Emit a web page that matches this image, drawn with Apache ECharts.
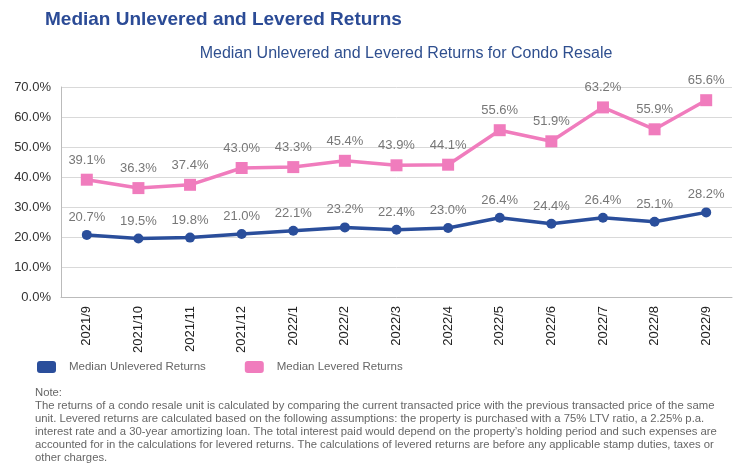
<!DOCTYPE html>
<html>
<head>
<meta charset="utf-8">
<script src="https://cdn.jsdelivr.net/npm/echarts@6/dist/echarts.min.js"></script>
<style>
html,body{margin:0;padding:0;background:#fff;}
#c{width:750px;height:473px;}
</style>
</head>
<body>
<div id="c"></div>
<script>
var categories = ['2021/9','2021/10','2021/11','2021/12','2022/1','2022/2','2022/3','2022/4','2022/5','2022/6','2022/7','2022/8','2022/9'];
var unlevered = [20.7,19.5,19.8,21.0,22.1,23.2,22.4,23.0,26.4,24.4,26.4,25.1,28.2];
var levered = [39.1,36.3,37.4,43.0,43.3,45.4,43.9,44.1,55.6,51.9,63.2,55.9,65.6];
var seriesNames = ['Median Unlevered Returns','Median Levered Returns'];
var noteLines = [
 'Note:',
 'The returns of a condo resale unit is calculated by comparing the current transacted price with the previous transacted price of the same',
 'unit. Levered returns are calculated based on the following assumptions: the property is purchased with a 75% LTV ratio, a 2.25% p.a.',
 'interest rate and a 30-year amortizing loan. The total interest paid would depend on the property\u2019s holding period and such expenses are',
 'accounted for in the calculations for levered returns. The calculations of levered returns are before any applicable stamp duties, taxes or',
 'other charges.'
];
var FONT = '"Liberation Sans", Arial, sans-serif';
var chart = echarts.init(document.getElementById('c'));
chart.setOption({
  backgroundColor:'#fff',
  animation:false,
  title:[
    {text:'Median Unlevered and Levered Returns', left:45, top:10, padding:0,
     textStyle:{fontFamily:FONT, fontSize:19, fontWeight:'bold', color:'#2b4b96'}},
    {text:'Median Unlevered and Levered Returns for Condo Resale', left:406, top:46, textAlign:'center', padding:0,
     textStyle:{fontFamily:FONT, fontSize:16, fontWeight:'normal', color:'#2f4f8f'}},
    {text:noteLines.join('\n'), left:35, top:386, padding:0,
     textStyle:{fontFamily:FONT, fontSize:11.3, fontWeight:'normal', color:'#666', lineHeight:13}}
  ],
  legend:{
    left:37, top:361, padding:0, itemWidth:19, itemHeight:12, itemGap:39, icon:'roundRect',
    textStyle:{fontFamily:FONT, fontSize:11.5, color:'#666', padding:[0,0,0,8]},
    data:seriesNames
  },
  grid:{left:61, right:18, top:87, bottom:176},
  xAxis:{
    type:'category', data:categories, boundaryGap:true,
    axisLine:{lineStyle:{color:'#bbb', width:1}},
    axisTick:{show:false},
    axisLabel:{rotate:90, fontFamily:FONT, fontSize:13, color:'#222', margin:9}
  },
  yAxis:{
    type:'value', min:0, max:70, interval:10,
    axisLine:{show:true, lineStyle:{color:'#bbb', width:1}},
    axisTick:{show:false},
    splitLine:{lineStyle:{color:'#d9d9d9', width:1}},
    axisLabel:{fontFamily:FONT, fontSize:13, color:'#333', margin:10,
      formatter:function(v){return v.toFixed(1)+'%';}}
  },
  series:[
    {name:seriesNames[0], type:'line', data:unlevered, symbol:'circle', symbolSize:10,
     itemStyle:{color:'#2a4e9b'}, lineStyle:{color:'#2a4e9b', width:3.5},
     label:{show:true, position:'top', distance:6, fontFamily:FONT, fontSize:13, color:'#777',
       formatter:function(p){return p.value.toFixed(1)+'%';}}},
    {name:seriesNames[1], type:'line', data:levered, symbol:'rect', symbolSize:12,
     itemStyle:{color:'#f07cbd'}, lineStyle:{color:'#f07cbd', width:3.5},
     label:{show:true, position:'top', distance:7, fontFamily:FONT, fontSize:13, color:'#777',
       formatter:function(p){return p.value.toFixed(1)+'%';}}}
  ]
});
</script>
</body>
</html>
